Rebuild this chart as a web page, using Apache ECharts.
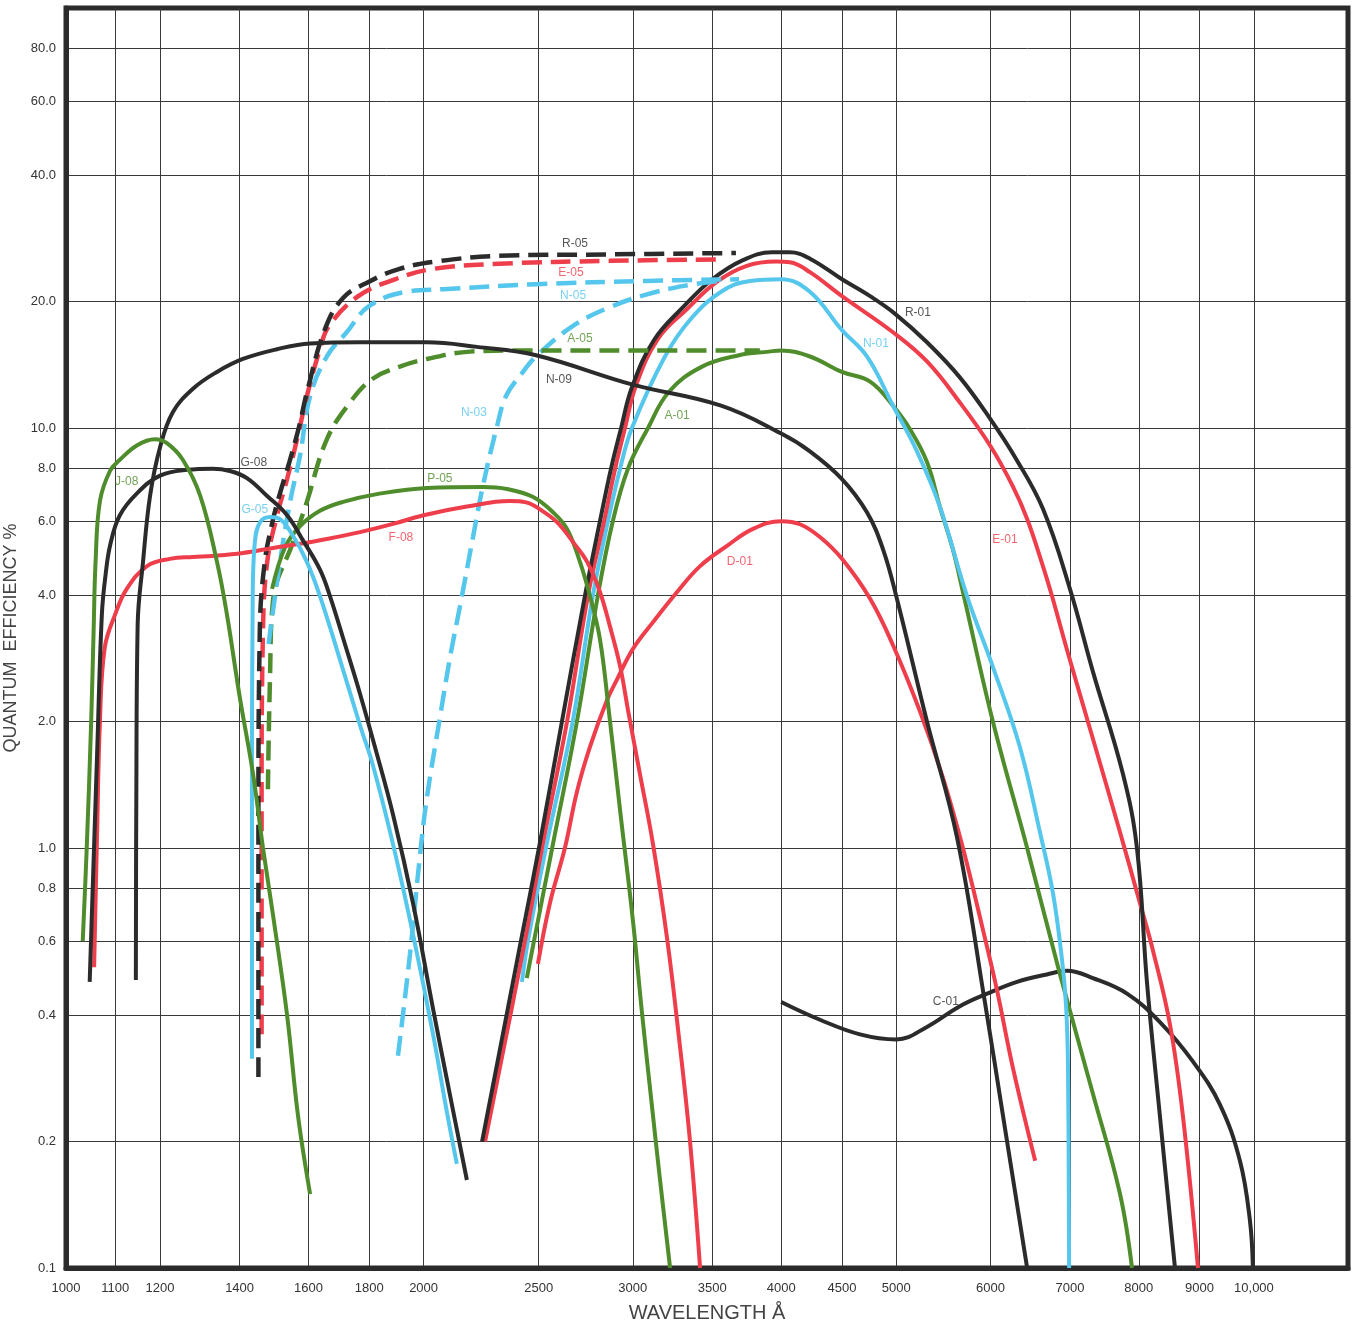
<!DOCTYPE html>
<html>
<head>
<meta charset="utf-8">
<title>Quantum efficiency</title>
<script src="https://cdn.jsdelivr.net/npm/echarts@6/dist/echarts.min.js"></script>
<style>
html, body { margin: 0; padding: 0; background: #fff; }
#chart { width: 1353px; height: 1327px; }
</style>
</head>
<body>
<div id="chart"></div>
<script>
// tick values and their printed labels
var xTicks = [1000, 1100, 1200, 1400, 1600, 1800, 2000, 2500, 3000, 3500, 4000, 4500, 5000, 6000, 7000, 8000, 9000, 10000];
var xTickLabels = ['1000', '1100', '1200', '1400', '1600', '1800', '2000', '2500', '3000', '3500', '4000', '4500', '5000', '6000', '7000', '8000', '9000', '10,000'];
var yTicks = [0.1, 0.2, 0.4, 0.6, 0.8, 1, 2, 4, 6, 8, 10, 20, 40, 60, 80];
var yTickLabels = ['0.1', '0.2', '0.4', '0.6', '0.8', '1.0', '2.0', '4.0', '6.0', '8.0', '10.0', '20.0', '40.0', '60.0', '80.0'];

// curves: [wavelength A, quantum efficiency %]
var J08 = [[1033,0.6],[1041,1.0],[1050,2.0],[1055,3.3],[1059,4.8],[1068,6.7],[1089,7.9],[1110,8.4],[1148,9.1],[1188,9.4],[1216,9.2],[1254,8.4],[1297,6.9],[1340,4.8],[1366,3.6],[1400,2.3],[1437,1.5],[1465,1.0],[1494,0.69],[1535,0.40],[1568,0.23],[1605,0.15]];
var G08 = [[1047,0.48],[1054,0.86],[1062,1.65],[1072,3.6],[1080,4.5],[1090,5.3],[1110,6.2],[1148,7.0],[1200,7.7],[1264,7.95],[1329,8.0],[1374,7.9],[1420,7.6],[1476,6.9],[1535,6.2],[1583,5.4],[1636,4.6],[1668,3.98],[1717,3.06],[1768,2.33],[1820,1.74],[1885,1.2],[1960,0.735],[2037,0.414],[2105,0.258],[2175,0.162]];
var N09 = [[1145,0.485],[1146,1.3],[1149,3.4],[1161,4.8],[1177,6.9],[1200,9.0],[1230,10.9],[1279,12.4],[1340,13.6],[1409,14.6],[1505,15.4],[1605,15.9],[1768,16.0],[2013,16.0],[2218,15.6],[2487,14.9],[2995,12.7],[3560,11.3],[4000,9.7],[4229,8.8],[4500,7.56],[4723,6.3],[4872,5.15],[5000,3.97],[5306,2.0],[5624,1.06],[5936,0.43],[6149,0.23],[6443,0.1]];
var G05 = [[1434,0.315],[1434,1.32],[1436,3.9],[1442,5.35],[1457,5.97],[1485,6.14],[1514,6.07],[1553,5.53],[1595,4.8],[1636,3.98],[1691,2.96],[1768,1.96],[1812,1.58],[1885,1.02],[1960,0.62],[2037,0.36],[2093,0.234],[2133,0.177]];
var F08 = [[1056,0.52],[1062,1.07],[1068,2.0],[1078,3.0],[1100,3.6],[1125,4.14],[1170,4.69],[1223,4.88],[1279,4.93],[1329,4.96],[1409,5.04],[1494,5.18],[1574,5.3],[1658,5.44],[1768,5.65],[1885,5.91],[2000,6.2],[2175,6.5],[2364,6.7],[2440,6.65],[2506,6.4],[2590,5.97],[2672,5.35],[2746,4.8],[2815,4.07],[2870,3.37],[2927,2.71],[2975,2.1],[3042,1.5],[3120,1.02],[3206,0.61],[3275,0.37],[3352,0.2],[3418,0.1]];
var P05 = [[1491,4.14],[1529,5.2],[1574,5.84],[1636,6.35],[1711,6.67],[1827,6.96],[2013,7.2],[2244,7.24],[2351,7.16],[2473,6.85],[2570,6.3],[2641,5.75],[2708,4.8],[2761,3.98],[2815,3.14],[2865,2.1],[2927,1.23],[3001,0.67],[3054,0.405],[3113,0.244],[3162,0.163],[3225,0.1]];
var R05 = [[1452,0.285],[1452,1.07],[1456,3.32],[1470,4.8],[1492,5.97],[1512,6.9],[1542,8.3],[1570,10],[1598,12.4],[1652,17.2],[1711,20.4],[1799,22.3],[1906,23.9],[2048,24.9],[2315,25.7],[2870,25.9],[3664,26.1]];
var E05 = [[1461,0.36],[1461,1.31],[1465,3.32],[1477,4.8],[1505,6.17],[1535,7.56],[1565,9.4],[1595,11.9],[1636,15.4],[1665,17.5],[1762,20.6],[1892,22.6],[2033,23.9],[2315,24.6],[2870,25.0],[3553,25.2]];
var N05 = [[1481,3.06],[1514,4.8],[1544,6.67],[1574,8.6],[1605,11.9],[1658,14.8],[1723,16.9],[1799,19.5],[1933,21.1],[2076,21.4],[2487,22.0],[3084,22.4],[3686,22.6]];
var A05 = [[1479,1.38],[1485,2.54],[1494,3.9],[1553,5.35],[1595,6.67],[1658,9.4],[1734,11.5],[1812,13.1],[1910,14.0],[2013,14.6],[2188,15.2],[2411,15.3],[3102,15.3],[3838,15.3]];
var N03 = [[1903,0.32],[1948,0.56],[1986,0.96],[2013,1.32],[2064,2.04],[2105,2.84],[2146,3.76],[2201,5.5],[2244,7.3],[2306,10.1],[2346,11.9],[2415,13.4],[2487,14.8],[2672,17.5],[2870,19.4],[3084,20.8],[3313,21.8],[3558,22.4]];
var R01 = [[2240,0.2],[2415,0.6],[2501,1.0],[2615,2.0],[2735,4.0],[2815,6.0],[2876,8.0],[2933,10],[2995,12.5],[3126,16.2],[3313,19.5],[3500,22.6],[3714,25.1],[3929,26.2],[4068,26.2],[4229,25.3],[4500,22.6],[4752,20.6],[4988,18.7],[5306,16.0],[5655,13.2],[6000,10.5],[6292,8.53],[6643,6.42],[7000,4.14],[7319,2.63],[7758,1.5],[7971,1.0],[8127,0.48],[8334,0.23],[8581,0.1]];
var E01 = [[2253,0.2],[2434,0.6],[2516,1.0],[2641,2.0],[2751,4.0],[2838,6.0],[2899,8.0],[2955,10],[3018,12.6],[3150,16.3],[3333,19.2],[3532,22.3],[3737,24.3],[3960,24.9],[4068,24.8],[4229,23.5],[4500,20.6],[4968,16.9],[5306,14.4],[5655,11.5],[6000,9.06],[6267,7.26],[6443,6.07],[6643,4.69],[6761,3.98],[6961,2.96],[7319,1.82],[7714,1.09],[8017,0.74],[8222,0.57],[8498,0.38],[8714,0.23],[8972,0.1]];
var N01 = [[2420,0.48],[2448,0.6],[2535,1.0],[2670,2.0],[2777,4.0],[2859,6.0],[2927,8.0],[2995,10],[3193,14.8],[3358,18.2],[3560,21.1],[3765,22.4],[4000,22.6],[4229,21.1],[4500,17.1],[4723,14.8],[4968,11.3],[5204,8.8],[5440,6.5],[5734,3.98],[6029,2.7],[6353,1.74],[6605,1.09],[6774,0.78],[6894,0.54],[6948,0.42],[6974,0.30],[6989,0.1]];
var A01 = [[2443,0.49],[2477,0.6],[2566,1.0],[2692,2.0],[2804,4.0],[2886,6.0],[2972,8.0],[3090,10],[3218,12.2],[3431,14.0],[3686,14.9],[3906,15.2],[4000,15.3],[4229,14.8],[4500,13.6],[4752,12.9],[4968,11.3],[5133,9.95],[5306,8.3],[5440,6.5],[5578,5.15],[5689,4.07],[6029,2.0],[6443,1.0],[6867,0.5],[7319,0.26],[7714,0.15],[7895,0.1]];
var D01 = [[2496,0.53],[2555,0.74],[2630,1.0],[2692,1.36],[2761,1.74],[2854,2.25],[2910,2.52],[3001,2.98],[3120,3.45],[3269,4.07],[3418,4.69],[3601,5.24],[3787,5.75],[4000,6.0],[4148,5.9],[4312,5.5],[4500,4.88],[4752,3.92],[4968,3.04],[5236,2.11],[5473,1.47],[5689,1.0],[5913,0.64],[6076,0.46],[6267,0.30],[6544,0.18]];
var C01 = [[4000,0.43],[4312,0.39],[4660,0.36],[5000,0.35],[5306,0.375],[5655,0.42],[5963,0.45],[6318,0.48],[6694,0.5],[6961,0.51],[7319,0.49],[7819,0.45],[8334,0.385],[8886,0.31],[9362,0.245],[9732,0.18],[9922,0.13],[9980,0.1]];

// curve labels and where they sit
var labelNames = ['R-05', 'E-05', 'N-05', 'R-01', 'N-01', 'A-05', 'N-09', 'N-03', 'A-01', 'G-08', 'J-08', 'P-05', 'G-05', 'F-08', 'E-01', 'D-01', 'C-01'];
var labelSpots = [[2682,27.4],[2661,23.4],[2672,20.7],[5214,18.8],[4806,15.85],[2708,16.3],[2600,13.0],[2205,10.9],[3269,10.7],[1439,8.25],[1125,7.44],[2064,7.56],[1442,6.38],[1914,5.47],[6171,5.41],[3692,4.8],[5504,0.43]];

var black = '#2b2b2b', red = '#ee3d4b', cyan = '#55c6ec', green = '#4f8c2b';
var labelColors = [black, red, cyan, black, cyan, green, black, cyan, green, black, green, green, cyan, red, red, red, black];

// name, data, colour, dashed
var curves = [
    ['C-01', C01, black, false],
    ['D-01', D01, red, false],
    ['A-01', A01, green, false],
    ['N-01', N01, cyan, false],
    ['E-01', E01, red, false],
    ['R-01', R01, black, false],
    ['N-03', N03, cyan, true],
    ['A-05', A05, green, true],
    ['N-05', N05, cyan, true],
    ['E-05', E05, red, true],
    ['R-05', R05, black, true],
    ['P-05', P05, green, false],
    ['F-08', F08, red, false],
    ['G-05', G05, cyan, false],
    ['N-09', N09, black, false],
    ['G-08', G08, black, false],
    ['J-08', J08, green, false]
];

function nearestLabel(ticks, labels, v) {
    var best = 0;
    for (var i = 1; i < ticks.length; i++) {
        if (Math.abs(Math.log(ticks[i] / v)) < Math.abs(Math.log(ticks[best] / v))) best = i;
    }
    return labels[best];
}

var series = curves.map(function (c) {
    return {
        name: c[0],
        type: 'line',
        data: c[1],
        symbol: 'none',
        smooth: 0.4,
        silent: true,
        lineStyle: {
            color: c[2],
            width: c[3] ? 4.5 : 4,
            type: c[3] ? [20, 9] : 'solid'
        }
    };
});

series.push({
    type: 'scatter',
    symbolSize: 0,
    silent: true,
    z: 5,
    data: labelSpots.map(function (p, i) {
        return {
            name: labelNames[i],
            value: p,
            label: {color: labelColors[i]}
        };
    }),
    label: {
        show: true,
        position: 'inside',
        formatter: '{b}',
        fontFamily: 'Liberation Sans',
        fontSize: 12
    }
});

var option = {
    animation: false,
    backgroundColor: '#fff',
    grid: {
        left: 66, right: 5, top: 8, bottom: 59,
        outerBoundsMode: 'none',
        containLabel: false,
        show: true, borderWidth: 5, borderColor: black
    },
    xAxis: {
        type: 'log',
        logBase: 10,
        min: 1000,
        max: 12000,
        name: 'WAVELENGTH Å',
        nameLocation: 'middle',
        nameGap: 35,
        nameTextStyle: {fontFamily: 'Liberation Sans', fontSize: 20, color: '#444'},
        axisLine: {show: true, lineStyle: {color: black, width: 5}},
        axisTick: {show: false, customValues: xTicks},
        axisLabel: {
            customValues: xTicks,
            margin: 14,
            fontFamily: 'Liberation Sans',
            fontSize: 13,
            color: '#333',
            formatter: function (v) { return nearestLabel(xTicks, xTickLabels, v); }
        },
        splitLine: {show: true, lineStyle: {color: '#3a3a3a', width: 1}}
    },
    yAxis: {
        type: 'log',
        logBase: 10,
        min: 0.1,
        max: 100,
        name: 'QUANTUM  EFFICIENCY %',
        nameLocation: 'middle',
        nameGap: 40,
        nameTextStyle: {fontFamily: 'Liberation Sans', fontSize: 18, color: '#444'},
        axisLine: {show: true, lineStyle: {color: black, width: 5}},
        axisTick: {show: false, customValues: yTicks},
        axisLabel: {
            customValues: yTicks,
            margin: 10,
            fontFamily: 'Liberation Sans',
            fontSize: 13,
            color: '#333',
            formatter: function (v) { return nearestLabel(yTicks, yTickLabels, v); }
        },
        splitLine: {show: true, lineStyle: {color: '#3a3a3a', width: 1}}
    },
    series: series
};

var chart = echarts.init(document.getElementById('chart'));
chart.setOption(option);
</script>
</body>
</html>
